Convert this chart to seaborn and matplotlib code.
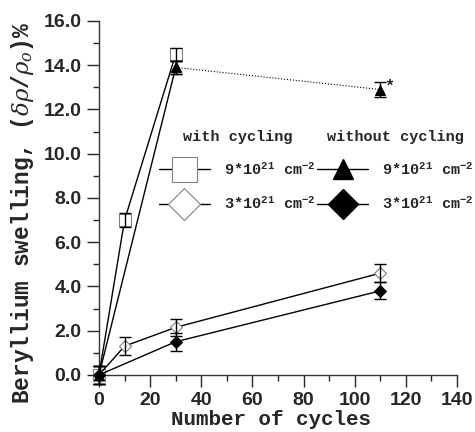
import numpy as np
import pandas as pd
import matplotlib
matplotlib.use("Agg")
import matplotlib.pyplot as plt
from matplotlib.lines import Line2D
import seaborn as sns

# ---- data ----
sq_x = [0, 10, 30]
sq_y = [0.0, 7.0, 14.5]
sq_e = [0.4, 0.3, 0.3]

tri_x = [0, 30]
tri_y = [0.0, 13.9]
tri_e = [0.4, 0.3]
tri_dot_x = [30, 110]
tri_dot_y = [13.9, 12.9]
tri_dot_e = [0.3, 0.35]

od_x = [0, 10, 30, 110]
od_y = [0.0, 1.3, 2.15, 4.6]
od_e = [0.4, 0.4, 0.4, 0.4]

fd_x = [0, 30, 110]
fd_y = [0.0, 1.5, 3.8]
fd_e = [0.4, 0.4, 0.38]

x_ticks = [0, 20, 40, 60, 80, 100, 120, 140]
y_ticks = [0, 2, 4, 6, 8, 10, 12, 14, 16]

sns.set_style("ticks")
plt.rcParams['font.family'] = ['Liberation Mono', 'DejaVu Sans']
plt.rcParams['mathtext.fontset'] = 'custom'
plt.rcParams['mathtext.rm'] = 'Liberation Mono:bold'
plt.rcParams['mathtext.it'] = 'DejaVu Serif:italic'
plt.rcParams['mathtext.bf'] = 'Liberation Mono:bold'
plt.rcParams['mathtext.default'] = 'rm'

fig = plt.figure(figsize=(4.75, 4.32), dpi=100)
ax = fig.add_axes([0.2084, 0.1065, 0.7537, 0.845])

GRAY = '#808080'
common = dict(color='black', linewidth=1.0, ax=ax, clip_on=False, zorder=3)

def series(x, y, **kw):
    df = pd.DataFrame({'x': x, 'y': y})
    opts = dict(common)
    opts.update(kw)
    sns.lineplot(data=df, x='x', y='y', **opts)

series(sq_x, sq_y, marker='s', markersize=8, markerfacecolor='white',
       markeredgecolor=GRAY, markeredgewidth=0.8)
series(tri_x, tri_y, marker='^', markersize=7, markerfacecolor='black',
       markeredgecolor='black')
series(tri_dot_x, tri_dot_y, marker='^', markersize=7, markerfacecolor='black',
       markeredgecolor='black', linestyle=':', linewidth=0.8)
series(od_x, od_y, marker='D', markersize=6, markerfacecolor='white',
       markeredgecolor=GRAY, markeredgewidth=0.8)
series(fd_x, fd_y, marker='D', markersize=6, markerfacecolor='black',
       markeredgecolor='black')

for x, y, e in [(sq_x, sq_y, sq_e), (tri_x, tri_y, tri_e),
                (tri_dot_x, tri_dot_y, tri_dot_e), (od_x, od_y, od_e),
                (fd_x, fd_y, fd_e)]:
    ax.errorbar(x, y, yerr=e, fmt='none', ecolor='black', elinewidth=1.0,
                capsize=4, capthick=1.0, clip_on=False, zorder=4)

ax.text(111.5, 13.05, '*', fontsize=12, fontweight='bold', ha='left', va='center')

ax.set_xlim(0, 140)
ax.set_ylim(-0.5, 16)
ax.spines['top'].set_visible(False)
ax.spines['right'].set_visible(False)
ax.spines['bottom'].set_position(('data', 0))
ax.spines['left'].set_bounds(0, 16)
for s in ['left', 'bottom']:
    ax.spines[s].set_linewidth(1.0)
    ax.spines[s].set_color('#333333')

ax.set_xticks(x_ticks)
ax.set_xticks(np.arange(10, 140, 20), minor=True)
ax.set_yticks(y_ticks)
ax.set_yticks(np.arange(1, 16, 2), minor=True)
ax.set_xticklabels([str(v) for v in x_ticks], family='Liberation Sans',
                   fontweight='bold', fontsize=14)
ax.set_yticklabels([f'{v:.1f}' for v in y_ticks], family='Liberation Sans',
                   fontweight='bold', fontsize=14)
ax.tick_params(which='major', direction='out', length=8.5, width=1.0, pad=4)
ax.tick_params(which='minor', direction='out', length=4, width=1.0)

ax.set_xlabel('Number of cycles', fontsize=15, fontweight='bold', labelpad=0)
ax.xaxis.set_label_coords(0.48, -0.066)
ax.set_ylabel(r'Beryllium swelling, $(\mathit{\delta\rho/\rho_o})$%',
              fontsize=16.5, fontweight='bold')
ax.yaxis.set_label_coords(-0.176, 0.475)

# legends
lab9 = r'9*10$^{21}$ cm$^{-2}$'
lab3 = r'3*10$^{21}$ cm$^{-2}$'
h_sq = Line2D([], [], color='black', lw=1, marker='s', markersize=18,
              markerfacecolor='white', markeredgecolor=GRAY, markeredgewidth=0.8)
h_od = Line2D([], [], color='black', lw=1, marker='D', markersize=16,
              markerfacecolor='white', markeredgecolor=GRAY, markeredgewidth=0.8)
h_tri = Line2D([], [], color='black', lw=1, marker='^', markersize=14,
               markerfacecolor='black', markeredgecolor='black')
h_fd = Line2D([], [], color='black', lw=1, marker='D', markersize=15,
              markerfacecolor='black', markeredgecolor='black')

lkw = dict(frameon=False, loc='upper left', borderaxespad=0, borderpad=0,
           handlelength=3.3, handletextpad=0.95, labelspacing=1.15,
           prop={'family': 'Liberation Mono', 'weight': 'bold', 'size': 11},
           title_fontproperties={'family': 'Liberation Mono', 'weight': 'bold', 'size': 11},
           bbox_transform=fig.transFigure)
leg1 = ax.legend([h_sq, h_od], [lab9, lab3], title='with cycling',
                 bbox_to_anchor=(0.335, 0.70), **lkw)
ax.add_artist(leg1)
leg2 = ax.legend([h_tri, h_fd], [lab9, lab3], title='without cycling',
                 bbox_to_anchor=(0.668, 0.70), **lkw)

fig.savefig('out.png', dpi=100)
